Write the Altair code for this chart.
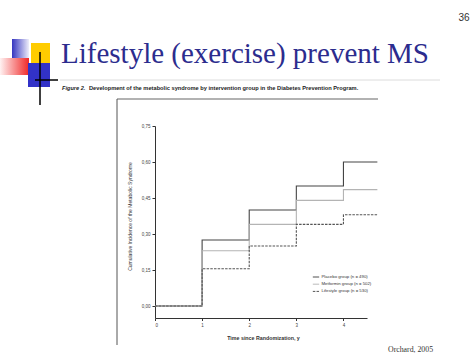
import altair as alt
import pandas as pd

# ---- data ----
years = [0, 1, 2, 3, 4, 4.72]
placebo = [0.0, 0.275, 0.40, 0.50, 0.60, 0.60]
metformin = [0.0, 0.23, 0.34, 0.44, 0.485, 0.485]
lifestyle = [0.0, 0.155, 0.25, 0.34, 0.38, 0.38]
groups = ["Placebo group (n = 490)", "Metformin group (n = 502)", "Lifestyle group (n = 530)"]
y_ticks = [0, 0.15, 0.30, 0.45, 0.60, 0.75]
x_ticks = [0, 1, 2, 3, 4]

slide_title = "Lifestyle (exercise) prevent MS"
fig_label = "Figure 2."
caption = "Development of the metabolic syndrome by intervention group in the Diabetes Prevention Program."
x_title = "Time since Randomization, y"
y_title = "Cumulative Incidence of the Metabolic Syndrome"
page_no = "36"
source = "Orchard, 2005"

rows = []
for g, vals in zip(groups, [placebo, metformin, lifestyle]):
    for x, v in zip(years, vals):
        rows.append({"year": x, "inc": v, "group": g})
df = pd.DataFrame(rows)
one = pd.DataFrame({"k": [0]})

L, T = 155, 126   # plot origin in page pixels
W, H = 212, 192

leg = alt.Legend(title=None, orient="none", legendX=312 - L, legendY=273 - T,
                 symbolType="stroke", symbolSize=40, symbolStrokeWidth=1,
                 labelFontSize=4.3, labelColor="#333", rowPadding=0.2,
                 labelOffset=1.5, labelFont="Liberation Sans", padding=0)

lines = alt.Chart(df).mark_line(interpolate="step-after", strokeWidth=1.1, clip=False).encode(
    x=alt.X("year:Q", scale=alt.Scale(domain=[0, 4.5], nice=False, zero=False),
            axis=alt.Axis(values=x_ticks, title=x_title, labelFontSize=4.5, labelColor="#444",
                          tickSize=2.5, tickColor="#333", domainColor="#333", grid=False,
                          labelPadding=2, titleFontSize=5.3, titleFontWeight="bold",
                          titleColor="#333", titleX=108, titleY=19, titleBaseline="middle",
                          titleAlign="center", labelFont="Liberation Sans", titleFont="Liberation Sans")),
    y=alt.Y("inc:Q", scale=alt.Scale(domain=[-0.05, 0.75], nice=False, zero=False),
            axis=alt.Axis(values=y_ticks, labelExpr="replace(format(datum.value, '.2f'), '.', ',')",
                          title=y_title, labelFontSize=4.5, labelColor="#444", tickSize=3,
                          tickColor="#333", domainColor="#333", grid=False, labelPadding=2,
                          titleFontSize=5, titleFontWeight="normal", titleColor="#333",
                          titleX=-26, titleY=90, titleAngle=270, titleAlign="center",
                          titleBaseline="middle", labelFont="Liberation Sans", titleFont="Liberation Sans")),
    color=alt.Color("group:N", scale=alt.Scale(domain=groups, range=["#444444", "#b4b4b4", "#555555"]),
                    legend=leg),
    strokeDash=alt.StrokeDash("group:N", scale=alt.Scale(domain=groups, range=[[1, 0], [1, 0], [2.5, 1.2]]),
                              legend=leg),
)


def rect(x, y, x2, y2, color, opacity=1):
    return alt.Chart(one).mark_rect(color=color, opacity=opacity).encode(
        x=alt.value(x - L), x2=alt.value(x2 - L), y=alt.value(y - T), y2=alt.value(y2 - T))


def rule(x, y, x2, y2, color, w=1):
    return alt.Chart(one).mark_rule(color=color, strokeWidth=w).encode(
        x=alt.value(x - L), x2=alt.value(x2 - L), y=alt.value(y - T), y2=alt.value(y2 - T))


def text(s, x, y, size, font="Liberation Sans", color="#333", align="left", style="normal", weight="normal"):
    return alt.Chart(one).mark_text(text=s, align=align, baseline="alphabetic", font=font,
                                    fontSize=size, color=color, fontStyle=style, fontWeight=weight).encode(
        x=alt.value(x - L), y=alt.value(y - T))


blue_grad = alt.LinearGradient(gradient="linear", x1=0, x2=1, y1=0, y2=0,
                               stops=[alt.GradientStop(offset=0, color="#3535c0"),
                                      alt.GradientStop(offset=1, color="#eeeefa")])
red_grad = alt.LinearGradient(gradient="linear", x1=0, x2=1, y1=0, y2=0,
                              stops=[alt.GradientStop(offset=0, color="#fff2f2"),
                                     alt.GradientStop(offset=1, color="#f02828")])

deco = [
    rect(12, 39, 29, 59, blue_grad),
    rect(31, 43, 50, 63, "#ffcc00"),
    rect(0, 58, 29, 75, red_grad),
    rect(28, 63, 50, 87, "#3232c8"),
    rule(40, 52, 40, 105, "#000", 1.5),
    rule(35, 80, 58, 80, "#000", 1.5),
    rule(60, 80, 440, 80, "#dcdcdc", 1),
    rule(117, 99, 378, 99, "#999", 1.3),
    rule(117, 99, 117, 345, "#555", 1),
    text(slide_title, 61, 63, 29, font="Liberation Serif", color="#2c2c8e"),
    text(page_no, 464, 21, 10, color="#333", align="center"),
    text(fig_label, 62, 90, 5.6, color="#222", style="italic", weight="bold"),
    text(caption, 89, 90, 5.7, color="#222", weight="bold"),
    text(source, 388, 352, 7.8, font="Liberation Serif", color="#333"),
]

chart = alt.layer(*deco, lines).properties(
    width=W, height=H, autosize="none",
    padding={"left": L, "top": T, "right": 474 - L - W, "bottom": 355 - T - H},
    background="white",
).configure_view(stroke=None)

chart.save("out.html", embed_options={"renderer": "svg", "actions": False})
